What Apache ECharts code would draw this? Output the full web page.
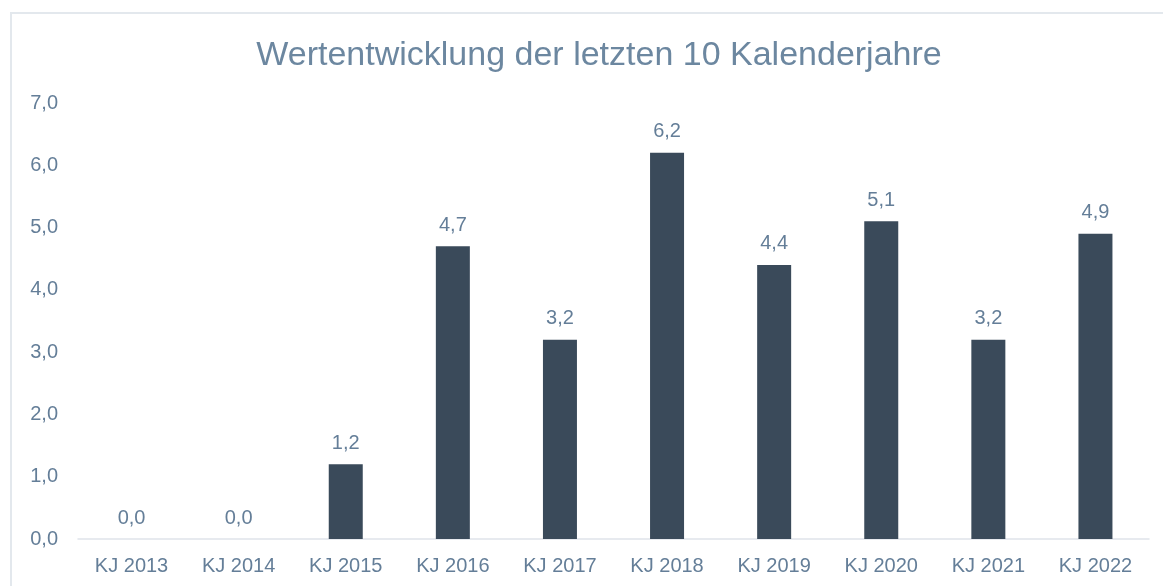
<!DOCTYPE html>
<html>
<head>
<meta charset="utf-8">
<script src="https://cdn.jsdelivr.net/npm/echarts@6/dist/echarts.min.js"></script>
<style>
  html, body { margin: 0; padding: 0; background: #fff; }
  #chart { width: 1163px; height: 586px; }
</style>
</head>
<body>
<div id="chart"></div>
<script>
// Daten
const categories = ["KJ 2013", "KJ 2014", "KJ 2015", "KJ 2016", "KJ 2017", "KJ 2018", "KJ 2019", "KJ 2020", "KJ 2021", "KJ 2022"];
const values = [0.0, 0.0, 1.2, 4.7, 3.2, 6.2, 4.4, 5.1, 3.2, 4.9];

const textColor = "#647e98";
const fmt = (v) => Number(v).toFixed(1).replace(".", ",");

const chart = echarts.init(document.getElementById("chart"));

chart.setOption({
  backgroundColor: "#fff",
  animation: false,
  graphic: [
    {
      type: "rect",
      shape: { x: 11, y: 13, width: 1170, height: 600 },
      style: { fill: "none", stroke: "#e3e8ed", lineWidth: 2 },
      silent: true
    }
  ],
  title: {
    text: "Wertentwicklung der letzten 10 Kalenderjahre",
    left: 594,
    textAlign: "center",
    top: 34,
    textStyle: {
      fontFamily: "Liberation Sans",
      fontSize: 34,
      fontWeight: "normal",
      color: "#6c87a0"
    }
  },
  grid: {
    left: 78,
    right: 14,
    top: 103,
    bottom: 47,
    containLabel: false
  },
  xAxis: {
    type: "category",
    data: categories,
    axisLine: { lineStyle: { color: "#dfe4ea", width: 1.5 } },
    axisTick: { show: false },
    axisLabel: {
      color: textColor,
      fontFamily: "Liberation Sans",
      fontSize: 20,
      margin: 17
    }
  },
  yAxis: {
    type: "value",
    min: 0,
    max: 7,
    interval: 1,
    splitLine: { show: false },
    axisLine: { show: false },
    axisTick: { show: false },
    axisLabel: {
      color: textColor,
      fontFamily: "Liberation Sans",
      fontSize: 20,
      margin: 20,
      formatter: (v) => fmt(v)
    }
  },
  series: [
    {
      type: "bar",
      data: values,
      barWidth: 34,
      itemStyle: { color: "#3a4a5a" },
      label: {
        show: true,
        position: "top",
        distance: 11,
        color: textColor,
        fontFamily: "Liberation Sans",
        fontSize: 20,
        formatter: (p) => fmt(p.value)
      }
    }
  ]
});
</script>
</body>
</html>
